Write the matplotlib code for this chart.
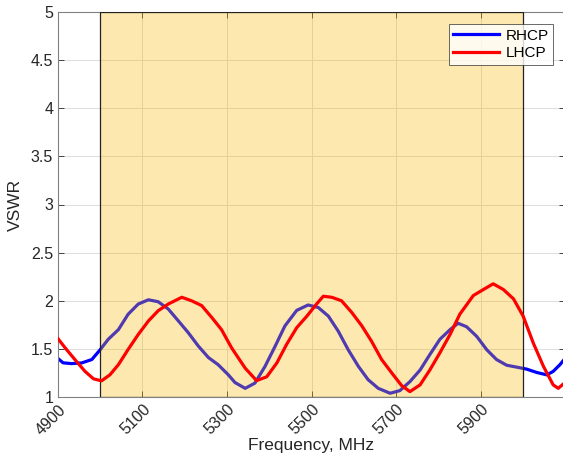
import matplotlib
matplotlib.use("Agg")
import matplotlib.pyplot as plt
from matplotlib.patches import Rectangle

plt.rcParams['font.family'] = ['Liberation Sans', 'DejaVu Sans']

rhcp_f = [4900, 4912, 4932, 4956, 4980, 4999, 5019, 5043, 5066, 5090, 5114, 5137,
          5161, 5185, 5208, 5232, 5256, 5279, 5303, 5319, 5343, 5366, 5390, 5414,
          5437, 5465, 5492, 5516, 5540, 5563, 5587, 5611, 5634, 5658, 5686, 5709,
          5733, 5757, 5780, 5804, 5828, 5847, 5867, 5891, 5915, 5938, 5962, 5986,
          6009, 6033, 6057, 6072, 6088, 6100]
rhcp_v = [1.40, 1.355, 1.347, 1.354, 1.389, 1.487, 1.60, 1.70, 1.86, 1.966, 2.01, 1.99,
          1.914, 1.79, 1.67, 1.53, 1.41, 1.336, 1.231, 1.15, 1.09, 1.144, 1.318, 1.528,
          1.738, 1.90, 1.956, 1.93, 1.84, 1.686, 1.49, 1.318, 1.18, 1.09, 1.039, 1.066,
          1.16, 1.28, 1.44, 1.60, 1.70, 1.766, 1.73, 1.63, 1.49, 1.389, 1.33, 1.31,
          1.29, 1.255, 1.23, 1.266, 1.336, 1.40]

lhcp_f = [4900, 4917, 4940, 4964, 4984, 5003, 5023, 5043, 5066, 5090, 5114, 5137,
          5161, 5193, 5216, 5240, 5264, 5287, 5311, 5343, 5370, 5394, 5418, 5441,
          5465, 5489, 5512, 5528, 5548, 5571, 5595, 5619, 5642, 5666, 5690, 5713,
          5733, 5757, 5780, 5804, 5828, 5851, 5883, 5907, 5930, 5954, 5978, 6001,
          6025, 6049, 6072, 6084, 6100]
lhcp_v = [1.606, 1.51, 1.389, 1.266, 1.189, 1.168, 1.231, 1.336, 1.494, 1.65, 1.79, 1.896,
          1.966, 2.036, 2.00, 1.95, 1.826, 1.70, 1.51, 1.30, 1.17, 1.21, 1.354, 1.546,
          1.72, 1.84, 1.966, 2.047, 2.036, 2.00, 1.88, 1.74, 1.58, 1.389, 1.25, 1.12,
          1.056, 1.126, 1.28, 1.46, 1.65, 1.86, 2.054, 2.117, 2.176, 2.117, 2.02, 1.84,
          1.56, 1.318, 1.126, 1.09, 1.15]

band = [5000, 6000]
xticks = [4900, 5100, 5300, 5500, 5700, 5900]
yticks = [1, 1.5, 2, 2.5, 3, 3.5, 4, 4.5, 5]

fig = plt.figure(figsize=(5.63, 4.71), dpi=100)
ax = fig.add_axes([58/563, 74/471, 507/563, 385/471])

ax.plot(rhcp_f, rhcp_v, color='#0000ff', lw=2.3, label='RHCP', zorder=2,
        solid_joinstyle='round')
ax.add_patch(Rectangle((band[0], 1), band[1]-band[0], 4,
                       facecolor=(249/255, 186/255, 8/255), alpha=0.32,
                       edgecolor='none', zorder=3))
ax.add_patch(Rectangle((band[0], 1), band[1]-band[0], 4,
                       facecolor='none', edgecolor='#222222', lw=0.9, zorder=3))
ax.plot(lhcp_f, lhcp_v, color='#ff0000', lw=2.3, label='LHCP', zorder=4,
        solid_joinstyle='round')

ax.set_xlim(4900, 6100)
ax.set_ylim(1, 5)
ax.set_xticks(xticks)
ax.set_yticks(yticks)
ax.set_yticklabels(['1', '1.5', '2', '2.5', '3', '3.5', '4', '4.5', '5'])
ax.grid(True, color='#dcdcdc', lw=0.7, zorder=0)
ax.set_axisbelow(True)
ax.tick_params(direction='in', top=True, right=True, length=4, width=0.6,
               colors='#262626', labelsize=11.5)
plt.setp(ax.get_xticklabels(), rotation=45, ha='right', rotation_mode='anchor')
for s in ax.spines.values():
    s.set_color('#808080')
    s.set_linewidth(0.8)
ax.set_xlabel('Frequency, MHz', fontsize=12.5, color='#262626', labelpad=0)
ax.set_ylabel('VSWR', fontsize=12.5, color='#262626', labelpad=6)

leg = ax.legend(loc='upper right', bbox_to_anchor=((553 - 58)/507, 1 - 12/385),
                fontsize=11, frameon=True, fancybox=False, handlelength=3.0,
                handletextpad=0.4, borderpad=0.3, labelspacing=0.25, borderaxespad=0)
leg.get_frame().set_edgecolor('#262626')
leg.get_frame().set_linewidth(0.6)
leg.set_zorder(10)

fig.savefig('out.png', dpi=100)
